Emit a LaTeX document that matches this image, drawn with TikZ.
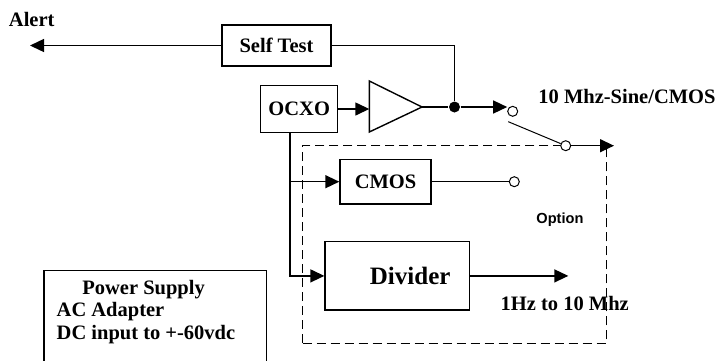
\documentclass[tikz,border=0pt]{standalone}
\usepackage{fontspec}
\setmainfont{Liberation Serif}
\newfontfamily\sansb{Liberation Sans}
\usetikzlibrary{arrows.meta}
\begin{document}
\begin{tikzpicture}[x=1pt,y=-1pt, line width=1.4pt,
  every node/.style={font=\fontsize{20.5}{23}\selectfont\bfseries},
  box/.style={draw, inner sep=0pt},
  arr/.style={-{Triangle[length=14pt,width=13pt]}},
  port/.style={circle, draw, fill=white, line width=1pt, minimum size=10pt, inner sep=0pt},
  jdot/.style={circle, fill, minimum size=11pt, inner sep=0pt},
  lbl/.style={anchor=base west, inner sep=0pt},
  optbox/.style={draw, dash pattern=on 9pt off 5pt, inner sep=0pt}]
\useasboundingbox (0,0) rectangle (718,360);
\clip (0,0) rectangle (718,360);
% option area
\node[optbox, minimum width=304pt, minimum height=197.6pt] (opt) at (454.7,244.5) {};
% boxes
\node[box, minimum width=109pt, minimum height=41pt] (self) at (276.5,45.5) {Self Test};
\node[box, minimum width=77pt, minimum height=46.6pt] (ocxo) at (299.2,109) {OCXO};
\node[box, minimum width=91pt, minimum height=44.7pt] (cmos) at (385.5,181.7) {CMOS};
\node[box, minimum width=144.3pt, minimum height=68.3pt, font=\fontsize{25}{28}\selectfont\bfseries] (div) at (397.2,275.9) {\hspace*{26pt}Divider};
\node[box, anchor=north west, minimum width=222.7pt, minimum height=110pt] (psu) at (43.3,270) {};
% amplifier
\coordinate (ampin) at (369.3,107);
\coordinate (ampout) at (422,107);
\draw (369.3,81) -- (ampout) -- (369.3,132) -- cycle;
% junction and switch contacts
\node[jdot] (j) at (454.5,107) {};
\node[port] (s1) at (512.7,111.3) {};
\node[port] (s2) at (565.7,145.7) {};
\node[port] (s3) at (514.3,181.7) {};
\coordinate (lever) at (508.3,121.7);
\coordinate (out) at (614,145.7);
\coordinate (alert) at (30,45.5);
\coordinate (divout) at (568.3,275.9);
\coordinate (tap) at ([xshift=-9.2pt]ocxo.south);
% connectors
\draw[arr] (self.west) -- (alert);
\draw (self.east) -| (j);
\draw[arr] (ocxo.east) -- (ocxo.east -| ampin);
\draw (ampout) -- (j);
\draw[arr] (j) -- (j -| s1.west);
\draw[line width=1pt] (lever) -- (s2);
\draw[arr] (s2) -- (out);
\draw[arr] (tap) |- (div.west);
\draw[arr] (tap |- cmos.west) -- (cmos.west);
\draw (cmos) -- (s3);
\draw[arr] (div.east) -- (divout);
% labels
\node[lbl] (alertlbl) at (8.3,26.7) {Alert};
\node[lbl] (outlbl) at (537.7,103.3) {10 Mhz-Sine/CMOS};
\node[lbl, font=\sansb\fontsize{14.6}{17}\selectfont\bfseries] (optlbl) at (535.7,223.3) {Option};
\node[lbl] (divlbl) at (500,310) {1Hz to 10 Mhz};
\node[lbl] (psu1) at (81.7,294.3) {Power Supply};
\node[lbl] (psu2) at (56,316) {AC Adapter};
\node[lbl] (psu3) at (56,339.5) {DC input to +-60vdc};
\end{tikzpicture}
\end{document}
